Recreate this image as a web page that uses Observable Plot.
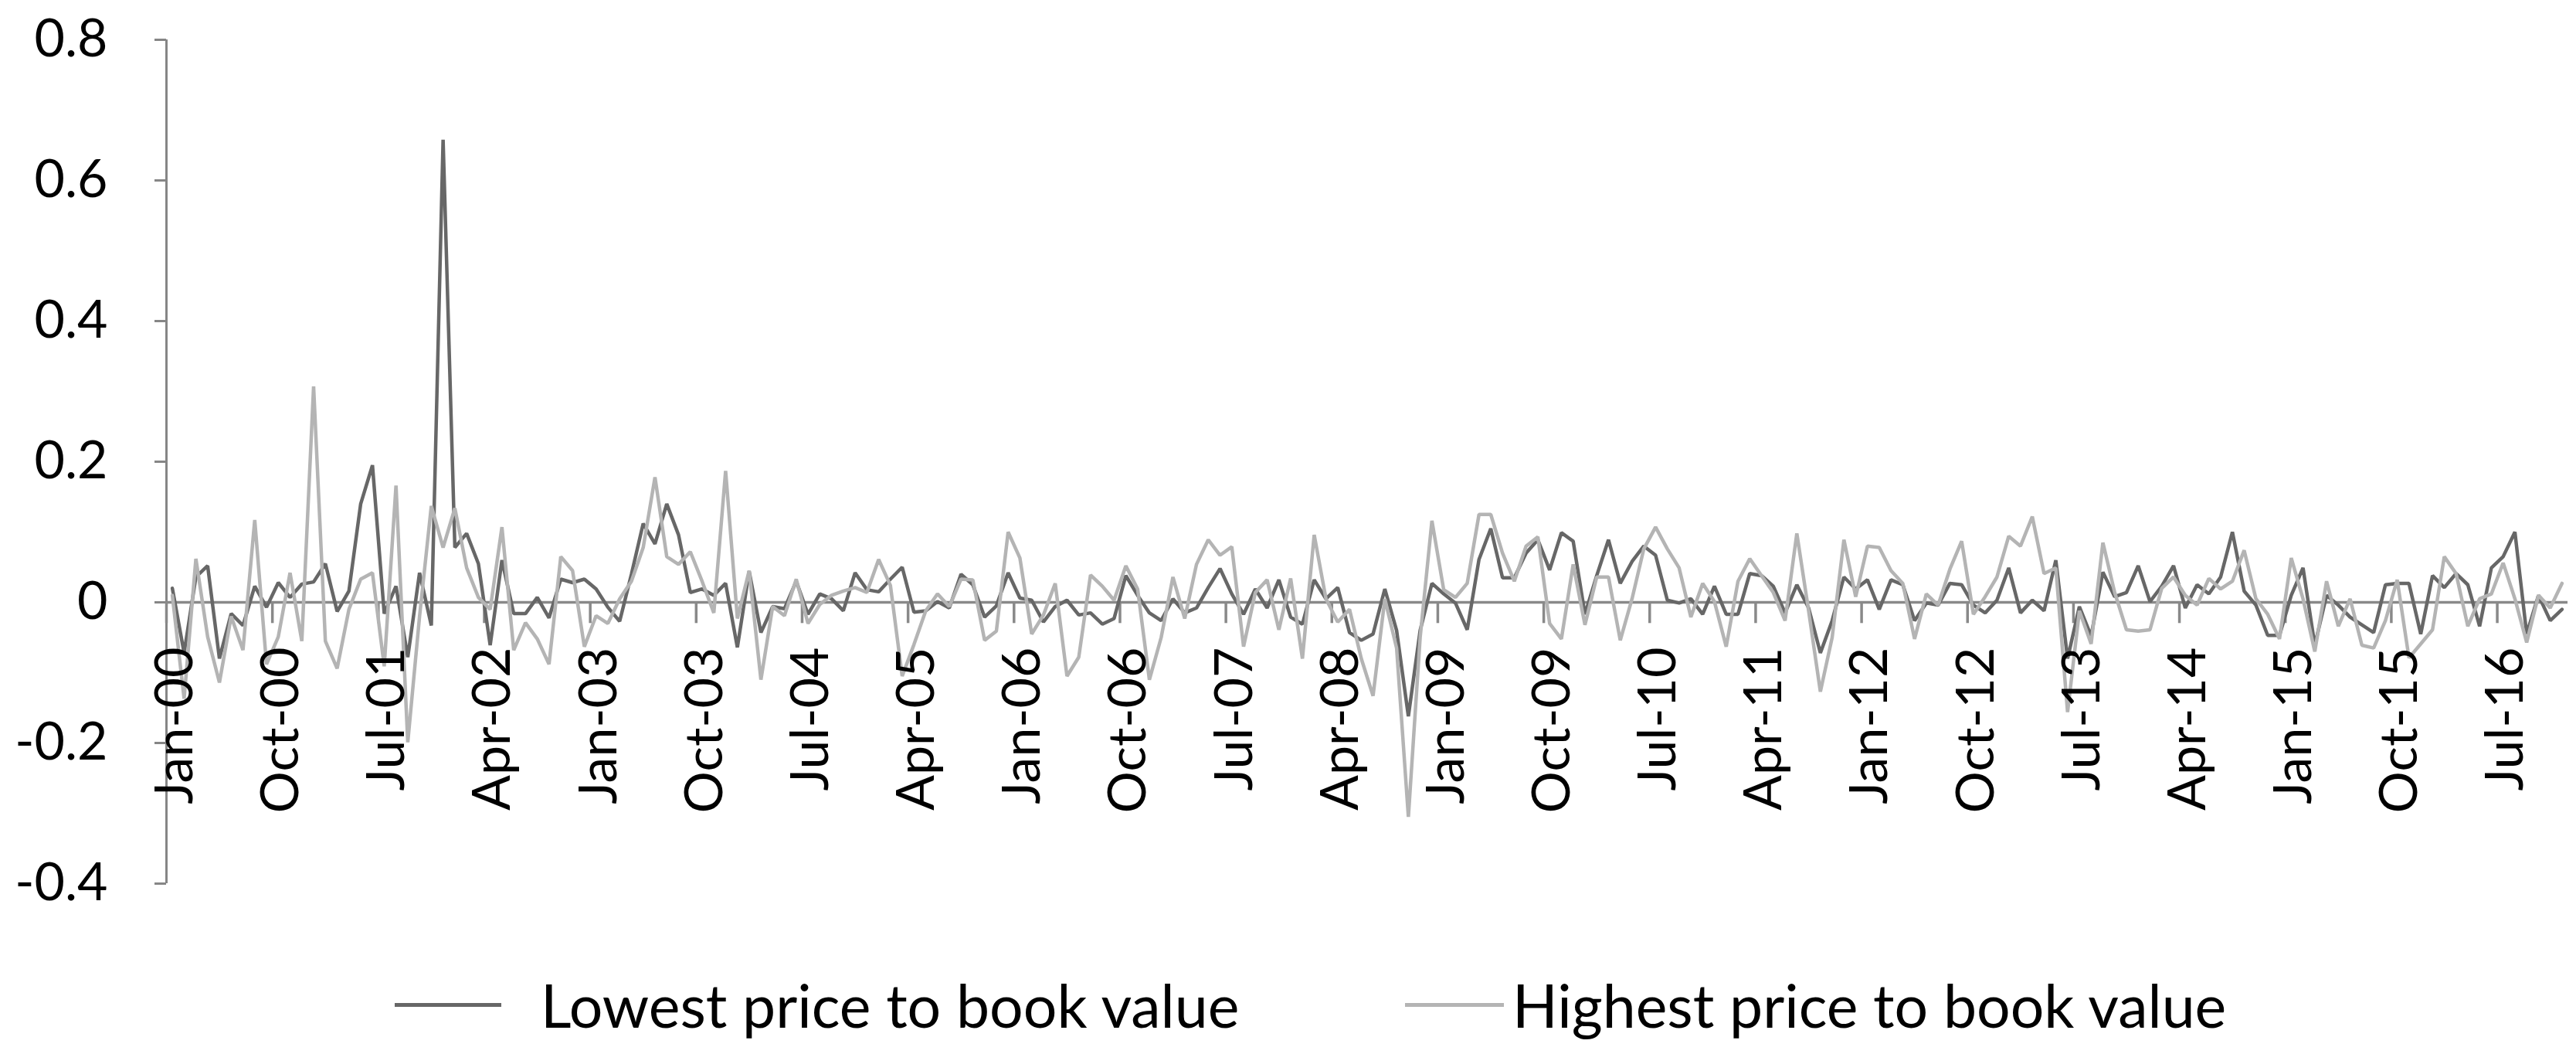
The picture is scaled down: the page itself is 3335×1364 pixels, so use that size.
<!DOCTYPE html>
<html><head><meta charset="utf-8">
<script src="https://cdn.jsdelivr.net/npm/d3@7"></script>
<script src="https://cdn.jsdelivr.net/npm/@observablehq/plot@0.6"></script>
<style>
html,body{margin:0;padding:0;background:#fff;}
#chart svg{display:block;}
#legend{position:relative;width:3335px;height:124px;font-family:Lato,"Open Sans",sans-serif;font-size:77px;color:#000;}
#legend .sw{position:absolute;height:5px;top:58px;}
#legend .lb{position:absolute;top:14px;line-height:92px;white-space:nowrap;}
</style></head><body>
<div id="chart"></div>
<div id="legend"></div>
<script>
// Series names
const seriesNames = ["Lowest price to book value", "Highest price to book value"];
// Monthly categories: Jan-2000 ... Dec-2016 (204 months)
const startYear = 2000, nMonths = 204;
// Tick labels every 9 months
const tickLabels = ["Jan-00","Oct-00","Jul-01","Apr-02","Jan-03","Oct-03","Jul-04","Apr-05","Jan-06","Oct-06","Jul-07","Apr-08","Jan-09","Oct-09","Jul-10","Apr-11","Jan-12","Oct-12","Jul-13","Apr-14","Jan-15","Oct-15","Jul-16"];
const yTicks = [-0.4, -0.2, 0, 0.2, 0.4, 0.6, 0.8];

const lowest = [
0.02,-0.072,0.036,0.052,-0.08,-0.016,-0.033,0.023,-0.007,0.028,0.007,0.026,
0.029,0.055,-0.013,0.016,0.14,0.195,-0.016,0.023,-0.078,0.042,-0.033,0.658,
0.078,0.098,0.055,-0.061,0.06,-0.016,-0.016,0.007,-0.022,0.033,0.028,0.033,
0.019,-0.007,-0.027,0.04,0.112,0.083,0.14,0.096,0.014,0.019,0.01,0.027,
-0.064,0.044,-0.043,-0.006,-0.009,0.03,-0.017,0.012,0.005,-0.012,0.042,0.018,
0.015,0.033,0.05,-0.014,-0.012,0.001,-0.008,0.04,0.025,-0.021,-0.005,0.042,
0.006,0.003,-0.028,-0.006,0.003,-0.018,-0.015,-0.031,-0.023,0.038,0.01,-0.015,
-0.026,0.005,-0.015,-0.008,0.021,0.048,0.012,-0.017,0.019,-0.008,0.032,-0.021,
-0.031,0.032,0.005,0.021,-0.043,-0.054,-0.045,0.019,-0.04,-0.162,-0.04,0.027,
0.012,-0.001,-0.039,0.061,0.105,0.035,0.035,0.07,0.089,0.046,0.099,0.087,
-0.017,0.038,0.089,0.027,0.058,0.08,0.067,0.003,-0.001,0.005,-0.017,0.023,
-0.017,-0.017,0.041,0.038,0.023,-0.015,0.025,-0.008,-0.072,-0.026,0.036,0.019,
0.032,-0.01,0.032,0.025,-0.026,-0.001,-0.004,0.027,0.025,-0.004,-0.015,0.003,
0.049,-0.015,0.003,-0.012,0.06,-0.08,-0.006,-0.048,0.043,0.008,0.014,0.052,
0.001,0.023,0.052,-0.008,0.025,0.012,0.036,0.1,0.016,-0.004,-0.047,-0.047,
0.01,0.049,-0.061,0.01,-0.004,-0.021,-0.032,-0.043,0.025,0.027,0.027,-0.045,
0.038,0.021,0.041,0.025,-0.034,0.049,0.065,0.1,-0.045,0.01,-0.026,-0.01
];

const highest = [
0.01,-0.137,0.062,-0.049,-0.114,-0.02,-0.068,0.117,-0.088,-0.049,0.042,-0.055,
0.307,-0.055,-0.094,-0.01,0.033,0.042,-0.091,0.166,-0.199,-0.02,0.137,0.078,
0.134,0.049,0.007,-0.01,0.107,-0.068,-0.029,-0.052,-0.088,0.065,0.045,-0.063,
-0.019,-0.03,0.005,0.03,0.078,0.178,0.065,0.054,0.072,0.03,-0.015,0.187,
-0.023,0.045,-0.11,-0.006,-0.019,0.033,-0.03,-0.003,0.01,0.016,0.021,0.014,
0.061,0.024,-0.105,-0.06,-0.012,0.012,-0.006,0.033,0.032,-0.054,-0.041,0.1,
0.063,-0.045,-0.018,0.027,-0.105,-0.078,0.039,0.023,0.003,0.052,0.019,-0.11,
-0.05,0.036,-0.023,0.054,0.089,0.067,0.079,-0.063,0.014,0.032,-0.039,0.034,
-0.08,0.096,0.005,-0.028,-0.01,-0.08,-0.133,0.005,-0.065,-0.305,-0.05,0.116,
0.018,0.007,0.027,0.125,0.125,0.07,0.03,0.08,0.093,-0.03,-0.052,0.054,
-0.032,0.036,0.036,-0.054,0.005,0.076,0.107,0.076,0.049,-0.021,0.027,0.001,
-0.063,0.03,0.062,0.038,0.014,-0.026,0.098,-0.012,-0.127,-0.05,0.089,0.008,
0.08,0.078,0.045,0.027,-0.052,0.012,-0.004,0.047,0.087,-0.017,0.008,0.036,
0.094,0.08,0.122,0.041,0.049,-0.156,-0.012,-0.059,0.085,0.014,-0.039,-0.041,
-0.039,0.02,0.036,0.01,-0.004,0.034,0.019,0.03,0.074,0.005,-0.017,-0.052,
0.063,0.005,-0.07,0.03,-0.034,0.005,-0.061,-0.065,-0.026,0.032,-0.079,-0.059,
-0.039,0.065,0.041,-0.034,0.005,0.012,0.056,0.005,-0.057,0.01,-0.008,0.027
];

const colors = ["#676767", "#b4b4b4"];

const lowData = lowest.map((v, i) => ({i, v}));
const highData = highest.map((v, i) => ({i, v}));
const tickData = tickLabels.map((label, k) => ({i: k * 9, label}));

const W = 3335, H = 1240;
const chart = Plot.plot({
  width: W, height: H,
  marginLeft: 215, marginRight: 11, marginTop: 51, marginBottom: 97,
  style: {fontFamily: "Lato, 'Open Sans', sans-serif", background: "#fff"},
  x: {type: "linear", domain: [-0.5, nMonths - 0.5], axis: null},
  y: {domain: [-0.4, 0.8], axis: null},
  marks: [
    Plot.axisY({ticks: yTicks, tickSize: 15, tickFormat: () => "", label: null, stroke: "#868686", strokeWidth: 3}),
    Plot.axisY({ticks: yTicks, tickSize: 0, tickPadding: 76, fontSize: 68, fill: "#000", label: null,
      tickFormat: d => d === 0 ? "0" : d3.format(".1f")(d).replace("−", "-")}),
    Plot.ruleX([-0.5], {stroke: "#868686", strokeWidth: 3}),
    Plot.ruleY([0], {stroke: "#898989", strokeWidth: 3.5}),
    Plot.ruleX(tickData, {x: d => d.i - 0.5, y1: 0, y2: -0.03, stroke: "#898989", strokeWidth: 3.5}),
    Plot.line(lowData, {x: "i", y: "v", stroke: colors[0], strokeWidth: 4.5, strokeLinejoin: "miter"}),
    Plot.line(highData, {x: "i", y: "v", stroke: colors[1], strokeWidth: 4.5, strokeLinejoin: "miter"}),
    Plot.text(tickData, {x: "i", y: () => 0, text: "label", rotate: -90, textAnchor: "end",
      dy: 58, dx: 4, fontSize: 68, fill: "#000"})
  ]
});
document.getElementById("chart").appendChild(chart);

const legend = document.getElementById("legend");
const items = [
  {name: seriesNames[0], color: colors[0], x1: 511, x2: 649, tx: 700},
  {name: seriesNames[1], color: colors[1], x1: 1819, x2: 1947, tx: 1958}
];
for (const it of items) {
  const sw = document.createElement("div");
  sw.className = "sw";
  sw.style.left = it.x1 + "px";
  sw.style.width = (it.x2 - it.x1) + "px";
  sw.style.background = it.color;
  legend.appendChild(sw);
  const lb = document.createElement("div");
  lb.className = "lb";
  lb.style.left = it.tx + "px";
  lb.textContent = it.name;
  legend.appendChild(lb);
}
</script>
</body></html>
